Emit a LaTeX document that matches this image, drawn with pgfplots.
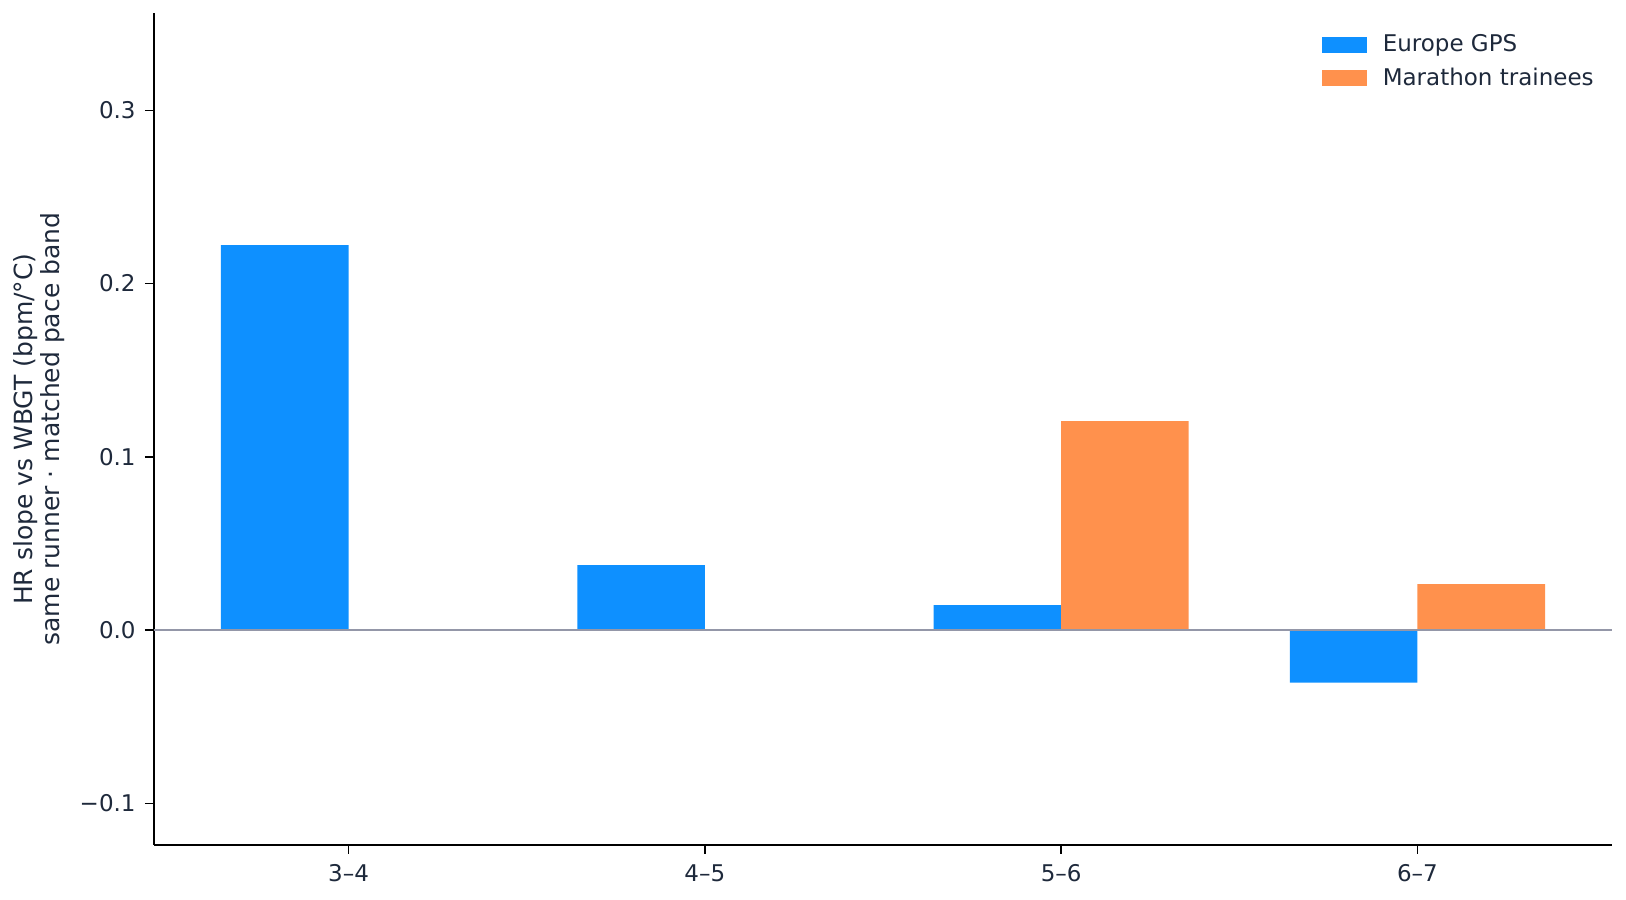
\documentclass[border=0pt]{standalone}
\usepackage{fontspec}
\setmainfont{DejaVu Sans}
\usepackage{pgfplots}
\pgfplotsset{compat=1.18}

\definecolor{euBlue}{HTML}{0E90FF}
\definecolor{marOrange}{HTML}{FF914D}
\definecolor{zeroGray}{HTML}{9497A8}
\definecolor{inkNavy}{HTML}{1E293B}

\begin{document}
\fontsize{11.5bp}{13.8bp}\selectfont
\begin{tikzpicture}
\begin{axis}[
  scale only axis,
  width=729bp, height=415.8bp,
  xmin=-0.546, xmax=3.546,
  ymin=-0.124, ymax=0.356,
  axis x line*=bottom,
  axis y line*=left,
  axis line style={black, line width=1.15bp},
  tick align=outside,
  major tick length=4.5bp,
  tick style={black, line width=0.8bp},
  xtick={0,1,2,3},
  xticklabels={3–4,4–5,5–6,6–7},
  ytick={-0.1,0,0.1,0.2,0.3},
  yticklabels={−0.1,0.0,0.1,0.2,0.3},
  ticklabel style={font=\fontsize{11.5bp}{13.8bp}\selectfont, text=inkNavy},
  yticklabel style={inner sep=4.5bp},
  xticklabel style={inner sep=5bp},
  ylabel={HR slope vs WBGT (bpm/°C)\\same runner · matched pace band},
  ylabel style={at={(axis description cs:-0.061,0.5)}, anchor=south, rotate=0,
    align=center, text=inkNavy, inner sep=0pt,
    font=\fontsize{12.5bp}{13.6bp}\selectfont},
  legend style={at={(rel axis cs:1,1)}, anchor=north east, draw=none, fill=none,
    xshift=-4bp, yshift=-6.5bp,
    font=\fontsize{11.5bp}{13.8bp}\selectfont, text=inkNavy,
    row sep=2.2bp,
    /tikz/every odd column/.append style={column sep=6bp}},
  legend cell align=left,
  legend image code/.code={\fill[#1] (0bp,-3.9bp) rectangle (22.5bp,3.9bp);},
]
\addplot[ybar, bar width=0.358, bar shift=-0.179, draw=none, fill=euBlue]
  coordinates {(0,0.2222) (1,0.0375) (2,0.0144) (3,-0.0304)};
\addlegendentry{Europe GPS}
\addplot[ybar, bar width=0.358, bar shift=0.179, draw=none, fill=marOrange]
  coordinates {(2,0.1206) (3,0.0265)};
\addlegendentry{Marathon trainees}
\addplot[forget plot, zeroGray, line width=0.75bp] coordinates {(-0.546,0) (3.546,0)};
\coordinate (SW) at (rel axis cs:0,0);
\coordinate (NE) at (rel axis cs:1,1);
\end{axis}
\pgfresetboundingbox
\path ([shift={(-77bp,-27.5bp)}]SW) rectangle ([shift={(7bp,6.65bp)}]NE);
\end{tikzpicture}
\end{document}
